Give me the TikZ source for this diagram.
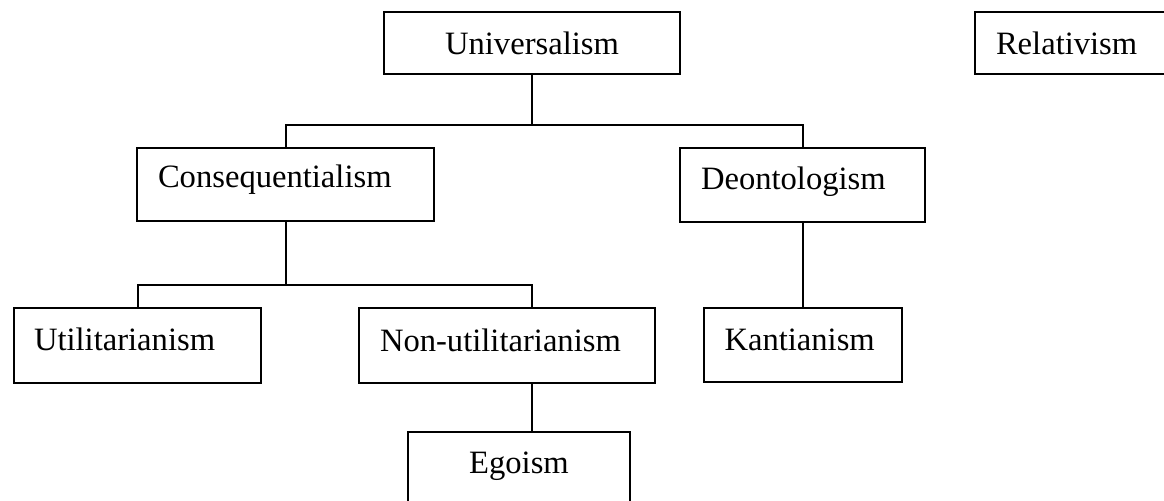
\documentclass[tikz,border=0pt]{standalone}
\usepackage{fontspec}
\setmainfont{Liberation Serif}
\usetikzlibrary{calc}
\tikzset{
  termbox/.style ={draw=black, line width=1pt, anchor=north west,
                   inner ysep=0pt, font=\fontsize{16.3}{19}\selectfont},
  leftbox/.style ={termbox, align=left, inner xsep=10.5pt},
  midbox/.style  ={termbox, align=center, inner xsep=0pt},
  link/.style    ={draw=black, line width=1pt},
}

\begin{document}
\begin{tikzpicture}[x=0.5pt,y=-0.5pt]
    \clip (0,0) rectangle (1164,500);

    \node[midbox, text width=148pt, text height=21pt, text depth=10pt] (univ) at (383,11) {Universalism};
    \node[leftbox, text width=76pt, text height=21pt, text depth=10pt] (rel) at (974,11) {Relativism};
    \node[leftbox, text width=127.5pt, text height=19.5pt, text depth=17pt] (cons) at (136,147) {Consequentialism};
    \node[leftbox, text width=101.5pt, text height=20.5pt, text depth=16.5pt] (deon) at (679,147) {Deontologism};
    \node[leftbox, inner xsep=10pt, text width=103.5pt, text height=21pt, text depth=16.5pt] (util) at (13,307) {Utilitarianism};
    \node[leftbox, text width=127pt, text height=21.5pt, text depth=16pt] (nonu) at (358,307) {Non-utilitarianism};
    \node[leftbox, text width=78pt, text height=21pt, text depth=16pt] (kant) at (702.5,307) {Kantianism};
    \node[midbox, text width=111pt, text height=20.5pt, text depth=24pt] (ego) at (407,431) {Egoism};

    \path (univ.south) ++(0,50) coordinate (univbus);
    \path (cons.south) ++(0,63) coordinate (consbus);
    \coordinate (nonuin)  at (nonu.north -| univ.south);
    \coordinate (nonuout) at (nonu.south -| univ.south);
    \coordinate (egoin)   at (ego.north -| univ.south);

    \draw[link] (univ.south) -- (univbus);
    \draw[link] (cons.north) |- (univbus) -| (deon.north);
    \draw[link] (cons.south) -- (consbus);
    \draw[link] (util.north) |- (consbus) -| (nonuin);
    \draw[link] (deon.south) -- (deon.south |- kant.north);
    \draw[link] (nonuout) -- (egoin);
  \end{tikzpicture}
\end{document}
